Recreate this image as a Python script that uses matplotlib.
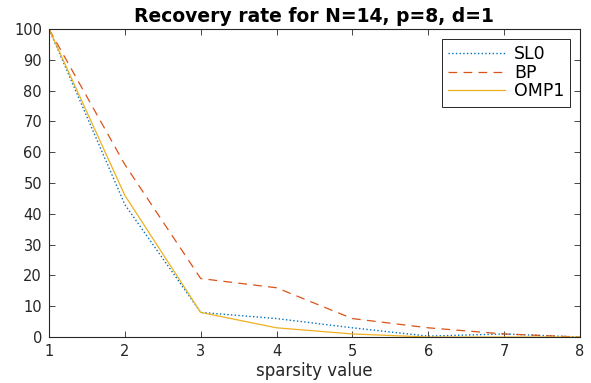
import matplotlib
matplotlib.use('Agg')
import matplotlib.pyplot as plt

# data
sparsity = [1, 2, 3, 4, 5, 6, 7, 8]
sl0 = [100, 43, 8, 6, 3, 0.3, 1, 0]
bp = [100, 56, 19, 16, 6, 3, 1, 0]
omp1 = [100, 46, 8, 3, 1, 0, 0, 0]

plt.rcParams['font.family'] = ['DejaVu Sans']

fig = plt.figure(figsize=(5.91, 3.83), dpi=100)
ax = fig.add_axes([0.083, 0.120, 0.898, 0.804])

ax.plot(sparsity, sl0, ':', color=(0, 0.447, 0.741), lw=1.0, label='SL0')
ax.plot(sparsity, bp, '--', color=(0.85, 0.325, 0.098), lw=0.9, dashes=(7, 5), label='BP')
ax.plot(sparsity, omp1, '-', color=(0.929, 0.694, 0.125), lw=0.9, label='OMP1')

ax.set_xlim(1, 8)
ax.set_ylim(0, 100)
ax.set_xticks(sparsity)
ax.set_yticks(range(0, 101, 10))
ax.tick_params(direction='in', top=True, right=True, labelsize=10.5, colors='#262626', length=4, width=0.6, pad=5)
for s in ax.spines.values():
    s.set_linewidth(0.8)
    s.set_color('#262626')

ax.set_xlabel('sparsity value', fontsize=12, color='#262626', labelpad=2)
ax.set_title('Recovery rate for N=14, p=8, d=1', fontsize=13.5, fontweight='bold', pad=5)

leg = ax.legend(loc='upper right', fontsize=12.5, fancybox=False, framealpha=1,
                edgecolor='#262626', handlelength=3.3, borderaxespad=0.55,
                labelspacing=0.05, handletextpad=0.5, borderpad=0.35)
leg.get_frame().set_linewidth(0.7)

fig.savefig('out.png', dpi=100)
